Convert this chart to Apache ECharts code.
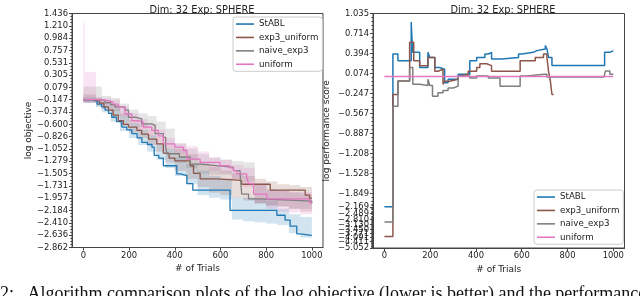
<!DOCTYPE html>
<html><head><meta charset="utf-8">
<script src="https://cdn.jsdelivr.net/npm/echarts@6/dist/echarts.min.js"></script>
<style>html,body{margin:0;padding:0;background:#fff}#c{width:640px;height:296px}</style>
</head><body><div id="c"></div>
<script>
// ---------------- DATA ----------------
const titleText = 'Dim: 32 Exp: SPHERE';
const xName = '# of Trials';
const leftYName = 'log objective';
const rightYName = 'log performance score';
const seriesNames = ['StABL', 'exp3_uniform', 'naive_exp3', 'uniform'];
const caption = '2:   Algorithm comparison plots of the log objective (lower is better) and the performance';

const xTicks = [0, 200, 400, 600, 800, 1000];
const leftYTicks = [1.436, 1.210, 0.984, 0.757, 0.531, 0.305, 0.079, -0.147, -0.374, -0.600, -0.826, -1.052, -1.279, -1.505, -1.731, -1.957, -2.184, -2.410, -2.636, -2.862];
const rightYTicks = [1.035, 0.714, 0.394, 0.074, -0.247, -0.567, -0.887, -1.208, -1.528, -1.849, -2.169, -2.489, -2.810, -3.130, -3.450, -3.771, -4.091, -4.411, -4.732, -5.052];

// left plot: mean curves, [trial, log objective] change points (step after)
const leftStABL = [[0,-0.147],[40,-0.18],[60,-0.23],[80,-0.28],[95,-0.34],[110,-0.40],[124,-0.47],[145,-0.55],[168,-0.65],[190,-0.70],[212,-0.77],[235,-0.85],[256,-0.93],[280,-0.97],[300,-1.02],[310,-1.17],[330,-1.22],[350,-1.36],[409,-1.51],[425,-1.54],[453,-1.69],[479,-1.81],[642,-2.18],[847,-2.27],[883,-2.36],[905,-2.47],[934,-2.61],[949,-2.64],[1000,-2.64]];
const leftExp3Uniform = [[0,-0.147],[50,-0.17],[70,-0.21],[90,-0.28],[110,-0.34],[130,-0.43],[153,-0.53],[175,-0.60],[197,-0.65],[234,-0.71],[255,-0.78],[285,-0.87],[321,-0.96],[350,-1.13],[375,-1.22],[400,-1.27],[467,-1.36],[482,-1.50],[511,-1.60],[584,-1.63],[693,-1.70],[818,-1.81],[971,-1.90],[990,-1.96],[1000,-1.96]];
const leftNaiveExp3 = [[0,-0.147],[66,-0.16],[95,-0.20],[120,-0.24],[139,-0.28],[182,-0.34],[197,-0.47],[230,-0.50],[255,-0.59],[299,-0.62],[314,-0.77],[350,-0.84],[360,-1.00],[365,-1.14],[420,-1.20],[467,-1.33],[511,-1.36],[584,-1.39],[657,-1.45],[686,-1.51],[693,-1.88],[723,-1.97],[780,-1.99],[900,-2.01],[1000,-2.03]];
const leftUniform = [[0,-0.147],[60,-0.16],[100,-0.17],[109,-0.19],[130,-0.23],[153,-0.28],[182,-0.41],[212,-0.53],[240,-0.56],[262,-0.65],[299,-0.71],[328,-0.81],[350,-0.96],[400,-1.02],[438,-1.08],[453,-1.24],[511,-1.30],[598,-1.36],[640,-1.40],[657,-1.45],[672,-1.51],[715,-1.57],[723,-1.69],[745,-1.88],[803,-1.97],[990,-2.04],[1000,-2.06]];

// left plot: spread bands (upper / lower) on a common trial grid
const bandX = [0,5,55,80,120,160,200,240,280,320,360,400,450,500,550,600,650,700,750,800,850,900,950,1000];
const bandStABLHi = [-0.10,-0.10,-0.14,-0.20,-0.32,-0.45,-0.58,-0.70,-0.80,-0.95,-1.05,-1.20,-1.32,-1.45,-1.55,-1.60,-1.95,-1.95,-1.97,-2.00,-2.15,-2.25,-2.30,-2.30];
const bandStABLLo = [-0.20,-0.20,-0.28,-0.38,-0.55,-0.72,-0.85,-0.98,-1.10,-1.25,-1.40,-1.55,-1.70,-1.90,-1.95,-1.98,-2.35,-2.38,-2.40,-2.42,-2.45,-2.60,-2.68,-2.68];
const bandExp3Hi = [-0.05,-0.05,-0.11,-0.15,-0.25,-0.40,-0.52,-0.60,-0.72,-0.82,-0.95,-1.05,-1.15,-1.30,-1.38,-1.45,-1.50,-1.55,-1.60,-1.65,-1.70,-1.72,-1.75,-1.78];
const bandExp3Lo = [-0.20,-0.20,-0.26,-0.32,-0.45,-0.62,-0.75,-0.85,-0.98,-1.10,-1.30,-1.45,-1.60,-1.75,-1.85,-1.90,-1.95,-2.00,-2.05,-2.08,-2.10,-2.15,-2.20,-2.22];
const bandNaiveHi = [0.09,0.09,0.09,-0.08,-0.12,-0.22,-0.33,-0.40,-0.45,-0.55,-0.68,-0.95,-1.05,-1.15,-1.22,-1.25,-1.28,-1.30,-1.70,-1.80,-1.82,-1.85,-1.88,-1.90];
const bandNaiveLo = [-0.20,-0.20,-0.20,-0.22,-0.35,-0.45,-0.55,-0.65,-0.72,-0.78,-0.95,-1.30,-1.40,-1.50,-1.52,-1.52,-1.60,-1.65,-2.05,-2.10,-2.12,-2.15,-2.15,-2.18];
const bandUniformHi = [1.26,0.36,-0.10,-0.12,-0.15,-0.28,-0.40,-0.50,-0.60,-0.70,-0.85,-0.95,-1.00,-1.10,-1.20,-1.25,-1.35,-1.40,-1.70,-1.80,-1.82,-1.85,-1.85,-1.88];
const bandUniformLo = [-0.20,-0.20,-0.20,-0.25,-0.32,-0.45,-0.60,-0.70,-0.80,-0.92,-1.05,-1.15,-1.25,-1.35,-1.45,-1.50,-1.60,-1.75,-2.05,-2.15,-2.20,-2.22,-2.25,-2.28];

// right plot: [trial, log performance score] change points (step after)
const rightStABL = [[0,-2.169],[37,0.386],[59,0.277],[117,0.90],[123,0.413],[154,0.17],[190,0.413],[198,0.33],[220,0.17],[241,0.142],[263,-0.074],[278,-0.02],[322,0.06],[373,0.277],[403,0.33],[439,0.386],[454,0.413],[468,0.305],[512,0.33],[586,0.386],[600,0.413],[651,0.44],[666,0.467],[703,0.52],[710,0.467],[717,0.33],[732,0.20],[962,0.413],[985,0.44],[1000,0.44]];
const rightExp3Uniform = [[0,-4.0],[37,-0.264],[59,-0.047],[110,0.576],[128,0.277],[154,0.197],[190,0.33],[220,0.11],[234,0.142],[256,-0.10],[263,-0.05],[285,-0.02],[322,0.03],[329,0.06],[366,0.11],[403,0.17],[417,0.23],[447,0.20],[468,0.11],[593,0.277],[659,0.33],[695,0.386],[710,0.33],[717,0.11],[725,-0.047],[732,-0.264],[739,-0.264]];
const rightNaiveExp3 = [[0,-2.97],[37,-0.45],[59,-0.047],[110,0.17],[124,-0.10],[154,-0.12],[190,-0.02],[198,-0.12],[210,-0.29],[234,-0.235],[256,-0.20],[278,-0.16],[300,-0.13],[322,0.034],[373,0.0],[403,0.034],[454,0.0],[505,-0.13],[593,0.034],[622,0.06],[700,0.06],[710,0.017],[959,0.017],[966,0.115],[985,0.06],[1000,0.06]];
const rightUniform = [[0,0.025],[1000,0.025]];

// ---------------- STYLE / HELPERS ----------------
const colors = ['#1f77b4', '#8c564b', '#7f7f7f', '#e377c2'];
const LT = 2, LS = 1 / (1 - 1 / 10);
function symlog(v) { const a = Math.abs(v); return a <= LT ? v * LS : Math.sign(v) * LT * (LS + Math.log10(a / LT)); }
function invSymlog(t) { const a = Math.abs(t); return a <= LT * LS ? t / LS : Math.sign(t) * LT * Math.pow(10, a / LT - LS); }
function fmt(v) { return v.toFixed(3).replace('-', '\u2212'); }
function minors(ticks, n) { const out = []; for (let i = 0; i < ticks.length - 1; i++) for (let k = 1; k < n; k++) out.push(ticks[i] + (ticks[i + 1] - ticks[i]) * k / n); return out; }

const txt = '#222', axc = '#444', FONT = 'DejaVu Sans';
const tickFont = 8.4;

function xAxis(gi) {
  return {
    type: 'value', gridIndex: gi, min: -50, max: 1049,
    name: xName, nameLocation: 'middle', nameGap: 15,
    nameTextStyle: { color: txt, fontSize: 9, fontFamily: FONT },
    axisLine: { show: true, onZero: false, lineStyle: { color: axc, width: 1 } },
    axisTick: { show: true, length: 3, lineStyle: { color: axc }, customValues: xTicks },
    axisLabel: { color: txt, fontSize: tickFont, fontFamily: FONT, margin: 4, customValues: xTicks, formatter: v => String(v) },
    splitLine: { show: false }
  };
}

const EPS = 1e-6;
const leftMin = leftYTicks[leftYTicks.length - 1] - EPS, leftMax = leftYTicks[0] + EPS;
const rMin = symlog(rightYTicks[rightYTicks.length - 1]) - EPS, rMax = symlog(rightYTicks[0]) + EPS;

const yAxes = [
  {
    type: 'value', gridIndex: 0, min: leftMin, max: leftMax,
    name: leftYName, nameLocation: 'middle', nameGap: 39, nameRotate: 90,
    nameTextStyle: { color: txt, fontSize: 9, fontFamily: FONT },
    axisLine: { show: true, onZero: false, lineStyle: { color: axc } },
    axisTick: { show: true, length: 3, lineStyle: { color: axc }, customValues: leftYTicks },
    axisLabel: { color: txt, fontSize: tickFont, fontFamily: FONT, margin: 4, showMinLabel: true, showMaxLabel: true, customValues: leftYTicks, formatter: v => fmt(v) },
    splitLine: { show: false }
  },
  {
    type: 'value', gridIndex: 0, min: leftMin, max: leftMax, position: 'left',
    axisLine: { show: false, onZero: false }, axisLabel: { show: false }, splitLine: { show: false },
    axisTick: { show: true, length: 1.6, lineStyle: { color: axc }, customValues: minors(leftYTicks, 4) }
  },
  {
    type: 'value', gridIndex: 1, min: rMin, max: rMax,
    name: rightYName, nameLocation: 'middle', nameGap: 42, nameRotate: 90,
    nameTextStyle: { color: txt, fontSize: 9, fontFamily: FONT },
    axisLine: { show: true, onZero: false, lineStyle: { color: axc } },
    axisTick: { show: true, length: 3, lineStyle: { color: axc }, customValues: rightYTicks.map(symlog) },
    axisLabel: { color: txt, fontSize: tickFont, fontFamily: FONT, margin: 4, showMinLabel: true, showMaxLabel: true, hideOverlap: false, customValues: rightYTicks.map(symlog), formatter: v => fmt(invSymlog(v)) },
    splitLine: { show: false }
  },
  {
    type: 'value', gridIndex: 1, min: rMin, max: rMax, position: 'left',
    axisLine: { show: false, onZero: false }, axisLabel: { show: false }, splitLine: { show: false },
    axisTick: { show: true, length: 1.6, lineStyle: { color: axc }, customValues: minors(rightYTicks, 5).map(symlog) }
  }
];

function stepLine(name, data, color, xi, yi, w) {
  return { type: 'line', name, data, xAxisIndex: xi, yAxisIndex: yi, step: 'end', symbol: 'none', silent: true,
    lineStyle: { color, width: w }, itemStyle: { color }, z: 3 };
}
// shaded band drawn as one stepped polygon through the axis scales
function band(id, lo, hi, color) {
  return {
    type: 'custom', name: '_band' + id, xAxisIndex: 0, yAxisIndex: 0, silent: true, z: 1,
    data: bandX.map((x, i) => [x, lo[i], hi[i]]),
    encode: { x: 0, y: [1, 2] },
    renderItem: function (params, api) {
      if (params.dataIndex !== 0) return null;
      const n = bandX.length, up = [], dn = [];
      for (let i = 0; i < n; i++) {
        const xNext = i < n - 1 ? bandX[i + 1] : bandX[i];
        up.push(api.coord([bandX[i], hi[i]]), api.coord([xNext, hi[i]]));
        dn.push(api.coord([bandX[i], lo[i]]), api.coord([xNext, lo[i]]));
      }
      const pts = up.concat(dn.reverse());
      return { type: 'polygon', shape: { points: pts }, style: { fill: color, opacity: 0.2, stroke: color, lineWidth: 0.4, strokeOpacity: 0.3 } };
    }
  };
}

const series = [
  band(0, bandStABLLo, bandStABLHi, colors[0]),
  band(1, bandExp3Lo, bandExp3Hi, colors[1]),
  band(2, bandNaiveLo, bandNaiveHi, colors[2]),
  band(3, bandUniformLo, bandUniformHi, colors[3]),
  stepLine(seriesNames[0], leftStABL, colors[0], 0, 0, 1.3),
  stepLine(seriesNames[1], leftExp3Uniform, colors[1], 0, 0, 1.3),
  stepLine(seriesNames[2], leftNaiveExp3, colors[2], 0, 0, 1.3),
  stepLine(seriesNames[3], leftUniform, colors[3], 0, 0, 1.3),
  stepLine(seriesNames[0], rightStABL.map(p => [p[0], symlog(p[1])]), colors[0], 1, 2, 1.5),
  stepLine(seriesNames[1], rightExp3Uniform.map(p => [p[0], symlog(p[1])]), colors[1], 1, 2, 1.5),
  stepLine(seriesNames[2], rightNaiveExp3.map(p => [p[0], symlog(p[1])]), colors[2], 1, 2, 1.5),
  stepLine(seriesNames[3], rightUniform.map(p => [p[0], symlog(p[1])]), colors[3], 1, 2, 1.5)
];

function legend(left, top) {
  return {
    data: seriesNames, orient: 'vertical', left, top, icon: 'rect', itemWidth: 18, itemHeight: 1.6, itemGap: 1.3,
    padding: [1, 4, 1, 3], backgroundColor: 'rgba(255,255,255,0.85)', borderColor: '#cccccc', borderWidth: 1, borderRadius: 3,
    selectedMode: false, textStyle: { color: txt, fontSize: 8.7, fontFamily: FONT, lineHeight: 12.1 }
  };
}

const option = {
  animation: false,
  backgroundColor: '#fff',
  title: [
    { text: titleText, left: 197, top: 0, textAlign: 'center', textStyle: { color: txt, fontSize: 9.8, fontWeight: 'normal', fontFamily: FONT } },
    { text: titleText, left: 498, top: 0, textAlign: 'center', textStyle: { color: txt, fontSize: 9.8, fontWeight: 'normal', fontFamily: FONT } }
  ],
  grid: [
    { left: 72, top: 13.5, width: 251, height: 234, show: true, borderColor: axc, borderWidth: 1, backgroundColor: 'transparent' },
    { left: 373, top: 13.5, width: 251.5, height: 234.5, show: true, borderColor: axc, borderWidth: 1, backgroundColor: 'transparent' }
  ],
  xAxis: [xAxis(0), xAxis(1)],
  yAxis: yAxes,
  legend: [legend(233, 17), legend(534, 190)],
  series,
  graphic: [
    { type: 'text', left: 0, top: 285, silent: true,
      style: { text: caption, fill: '#111', font: '18px "Liberation Serif"' } }
  ]
};

const chart = echarts.init(document.getElementById('c'), null, { renderer: 'canvas' });
chart.setOption(option);
</script>
</body></html>
